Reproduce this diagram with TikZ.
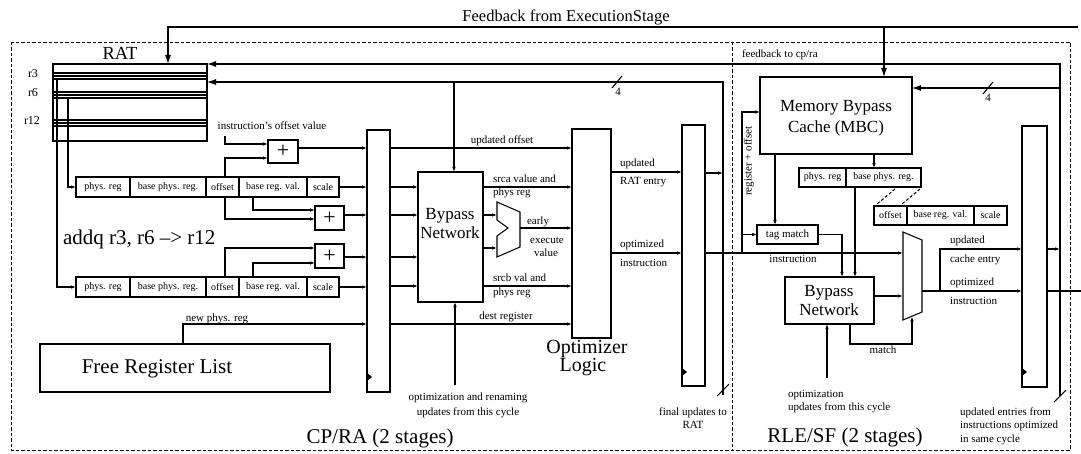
\documentclass[tikz,border=0pt]{standalone}
\usepackage{fontspec}
\setmainfont{Liberation Serif}
\usetikzlibrary{arrows.meta}
\begin{document}
\begin{tikzpicture}[x=1pt,y=-1pt,
  every node/.style={inner sep=0pt, outer sep=0pt},
  ln/.style={line width=1.05pt},
  arr/.style={ln, -{Latex[length=5pt,width=3.6pt]}},
  bigarr/.style={ln, -{Latex[length=9pt,width=6pt]}},
  box/.style={draw, line width=1.05pt, anchor=north west},
  cell/.style={box, font=\fontsize{10}{11}\selectfont, minimum height=20pt},
  sm/.style={font=\fontsize{11}{12}\selectfont},
  smb/.style={sm, anchor=base},
  smw/.style={sm, anchor=base west},
  lg/.style={font=\fontsize{21}{22}\selectfont, anchor=base},
  frame/.style={line width=0.9pt, dash pattern=on 3.5pt off 2pt},
]
\fill[white] (0,0) rectangle (1081,454);
\useasboundingbox (0,0) rectangle (1081,454);

% frame
\draw[frame] (11,42) rectangle (1070,450);
\draw[frame] (732,42) -- (732,450);

% title
\node[font=\fontsize{16.5}{18}\selectfont, anchor=base] (title) at (566,22) {Feedback from ExecutionStage};

% RAT
\node[box, minimum width=154pt, minimum height=77pt] (rat) at (53,64) {};
\node[font=\fontsize{18.5}{20}\selectfont, anchor=base] (ratlab) at (120,60) {RAT};
\foreach \yy in {73,76,79,92,95,98,120,123,126} \draw[ln] (53,\yy) -- (207,\yy);
\node[font=\fontsize{12}{13}\selectfont, anchor=base] (r3) at (33,78) {r3};
\node[font=\fontsize{12}{13}\selectfont, anchor=base] (r6) at (33,97) {r6};
\node[font=\fontsize{12}{13}\selectfont, anchor=base] (r12) at (32,125) {r12};

% field rows CP/RA
\node[cell, minimum width=54pt] (f1a) at (76,177) {phys. reg};
\node[cell, minimum width=76pt] (f1b) at (130,177) {base phys. reg.};
\node[cell, minimum width=33pt] (f1c) at (206,177) {offset};
\node[cell, minimum width=68pt] (f1d) at (239,177) {base reg. val.};
\node[cell, minimum width=32pt] (f1e) at (307,177) {scale};
\node[cell, minimum width=54pt] (f2a) at (76,277) {phys. reg};
\node[cell, minimum width=76pt] (f2b) at (130,277) {base phys. reg.};
\node[cell, minimum width=33pt] (f2c) at (206,277) {offset};
\node[cell, minimum width=68pt] (f2d) at (239,277) {base reg. val.};
\node[cell, minimum width=32pt] (f2e) at (307,277) {scale};

% adders
\node[box, minimum width=30pt, minimum height=23pt, font=\fontsize{22}{22}\selectfont] (addA) at (268,140) {+};
\node[box, minimum width=29pt, minimum height=24pt, font=\fontsize{22}{22}\selectfont] (addB) at (315,206) {+};
\node[box, minimum width=29pt, minimum height=24pt, font=\fontsize{22}{22}\selectfont] (addC) at (315,244) {+};

\node[smb] (offv) at (272,130) {instruction's offset value};
\node[font=\fontsize{21}{22}\selectfont, anchor=base west] (addq) at (63,245) {addq r3, r6 \textendash> r12};

% free register list
\node[box, minimum width=290pt, minimum height=48pt] (frl) at (40,344) {};
\node[lg] (frltxt) at (157,373) {Free Register List};
\node[smb] (newp) at (217,321) {new phys. reg};

% pipeline registers
\node[box, minimum width=23pt, minimum height=262pt] (reg1) at (367,130) {};
\node[box, minimum width=23pt, minimum height=261pt] (reg2) at (682,125) {};
\node[box, minimum width=25pt, minimum height=261pt] (reg3) at (1022,126) {};
\fill (367,373) -- (372,377) -- (367,381) -- cycle;
\fill (682,368) -- (687,372) -- (682,376) -- cycle;
\fill (1022,368) -- (1027,372) -- (1022,376) -- cycle;

% bypass network 1
\node[box, minimum width=65pt, minimum height=130pt] (byp1) at (418,172) {};
\node[font=\fontsize{17}{19}\selectfont, anchor=base] (byp1a) at (450,220) {Bypass};
\node[font=\fontsize{17}{19}\selectfont, anchor=base] (byp1b) at (450,239) {Network};

% mux 1
\draw[ln] (497,202) -- (520,212) -- (520,247) -- (497,257) -- (497,236) -- (508,228) -- (497,220) -- cycle;
\coordinate (m1in1) at (497,215);
\coordinate (m1in2) at (497,248);
\coordinate (m1out) at (520,228);

% optimizer
\node[box, minimum width=39pt, minimum height=209pt] (opt) at (572,129) {};
\node[font=\fontsize{20}{20}\selectfont, anchor=base] (optA) at (587,353) {Optimizer};
\node[font=\fontsize{20}{20}\selectfont, anchor=base] (optB) at (583,371) {Logic};

% CP/RA labels
\node[smb] (updoff) at (502,144) {updated offset};
\node[smw] (srca1) at (493,183) {srca value and};
\node[smw] (srca2) at (493,196) {phys reg};
\node[smb] (early) at (538,225) {early};
\node[smb] (exec) at (547,244) {execute};
\node[smb] (val) at (546,257) {value};
\node[smw] (srcb1) at (493,282) {srcb val and};
\node[smw] (srcb2) at (493,295) {phys reg};
\node[smb] (dest) at (506,319) {dest register};
\node[smb] (optren1) at (468,400) {optimization and renaming};
\node[smb] (optren2) at (468,415) {updates from this cycle};
\node[lg] (cpra) at (380,443) {CP/RA (2 stages)};
\node[smw] (urat1) at (620,167) {updated};
\node[smw] (urat2) at (620,185) {RAT entry};
\node[smw] (oin1) at (620,248) {optimized};
\node[smw] (oin2) at (620,267) {instruction};
\node[smb] (fin1) at (693,415) {final updates to};
\node[smb] (fin2) at (693,428) {RAT};

% RLE/SF
\node[box, minimum width=152pt, minimum height=77pt] (mbc) at (760,77) {};
\node[font=\fontsize{17}{19}\selectfont, anchor=base] (mbcA) at (836,112) {Memory Bypass};
\node[font=\fontsize{17}{19}\selectfont, anchor=base] (mbcB) at (836,133) {Cache (MBC)};
\node[smw] (fbcp) at (742,58) {feedback to cp/ra};
\node[sm, rotate=90] (regoff) at (749,161) {register + offset};

\node[cell, minimum width=47pt, minimum height=19pt] (g1a) at (799,168) {phys. reg};
\node[cell, minimum width=75pt, minimum height=19pt] (g1b) at (846,168) {base phys. reg.};
\node[cell, minimum width=33pt, minimum height=19pt] (g2a) at (874,206) {offset};
\node[cell, minimum width=67pt, minimum height=19pt] (g2b) at (907,206) {base reg. val.};
\node[cell, minimum width=33pt, minimum height=19pt] (g2c) at (974,206) {scale};
\draw[ln, dash pattern=on 3pt off 2pt] (895,189) -- (877,204);
\draw[ln, dash pattern=on 3pt off 2pt] (920,189) -- (902,204);

\node[cell, minimum width=61pt, minimum height=19pt, font=\fontsize{11}{12}\selectfont] (tag) at (757,225) {tag match};
\node[box, minimum width=89pt, minimum height=47pt] (byp2) at (785,277) {};
\node[font=\fontsize{17}{19}\selectfont, anchor=base] (byp2a) at (829,297) {Bypass};
\node[font=\fontsize{17}{19}\selectfont, anchor=base] (byp2b) at (829,315) {Network};

% mux 2
\draw[ln] (903,232) -- (922,240) -- (922,312) -- (903,320) -- cycle;
\coordinate (m2out) at (922,291);

\node[smb] (instr) at (793,263) {instruction};
\node[smb] (match) at (883,353) {match};
\node[smw] (opt21) at (788,397) {optimization};
\node[smw] (opt22) at (788,410) {updates from this cycle};
\node[lg] (rle) at (845,442) {RLE/SF (2 stages)};
\node[smw] (uce1) at (950,244) {updated};
\node[smw] (uce2) at (950,263) {cache entry};
\node[smw] (oi21) at (950,286) {optimized};
\node[smw] (oi22) at (950,304) {instruction};
\node[smw] (ue1) at (960,415) {updated entries from};
\node[smw] (ue2) at (960,428) {instructions optimized};
\node[smw] (ue3) at (960,442) {in same cycle};

% ---------- connectors ----------
% feedback from execution
\draw[bigarr] (1078,27) -- (168,27) -- (168,27 |- rat.north);
\draw[bigarr] (884,27) -- (884,27 |- mbc.north);

% feedback to cp/ra
\draw[bigarr] (1060,396) -- (1060,64) -- (rat.north east);
\draw[bigarr] (1060,88) -- (mbc.east |- 0,88);
\draw[ln] (983,94) -- (993,82);
\node[font=\fontsize{11}{12}\selectfont, anchor=base] (four2) at (988,102) {4};
\draw[ln] (1054,402) -- (1066,390);

% final updates to RAT
\draw[bigarr] (723,395) -- (723,82) -- (rat.east |- 0,82);
\draw[ln] (612,88) -- (622,76);
\node[font=\fontsize{11}{12}\selectfont, anchor=base] (four1) at (618,96) {4};
\draw[ln] (717,396) -- (729,384);
\draw[arr] (454,82) -- (454,82 |- byp1.north);

% RAT to field rows
\draw[arr] (57,79) -- (57,287) -- (f2a.west);
\draw[arr] (68,98) -- (68,187) -- (f1a.west);

% adder A
\draw[arr] (225,136) -- (225,144) -- (addA.west |- 0,144);
\draw[arr] (225,177) -- (225,158) -- (addA.west |- 0,158);
\draw[arr] (addA.east |- 0,148) -- (reg1.west |- 0,148);
% adder B
\draw[arr] (253,197) -- (253,210) -- (addB.west |- 0,210);
\draw[arr] (225,197) -- (225,219) -- (addB.west |- 0,219);
\draw[arr] (addB.east |- 0,215) -- (reg1.west |- 0,215);
% adder C
\draw[arr] (225,277) -- (225,248) -- (addC.west |- 0,248);
\draw[arr] (253,277) -- (253,263) -- (addC.west |- 0,263);
\draw[arr] (addC.east |- 0,257) -- (reg1.west |- 0,257);
% scale outputs
\draw[arr] (f1e.east) -- (f1e.east -| reg1.west);
\draw[arr] (f2e.east) -- (f2e.east -| reg1.west);
% free register list
\draw[arr] (183,344) -- (183,324) -- (reg1.west |- 0,324);

% reg1 outputs
\draw[arr] (reg1.east |- 0,148) -- (opt.west |- 0,148);
\draw[arr] (reg1.east |- 0,187) -- (byp1.west |- 0,187);
\draw[arr] (reg1.east |- 0,215) -- (byp1.west |- 0,215);
\draw[arr] (reg1.east |- 0,257) -- (byp1.west |- 0,257);
\draw[arr] (reg1.east |- 0,286) -- (byp1.west |- 0,286);
\draw[arr] (reg1.east |- 0,324) -- (opt.west |- 0,324);

% bypass 1 outputs
\draw[arr] (byp1.east |- 0,187) -- (opt.west |- 0,187);
\draw[arr] (byp1.east |- 0,286) -- (opt.west |- 0,286);
\draw[arr] (byp1.east |- m1in1) -- (m1in1);
\draw[arr] (byp1.east |- m1in2) -- (m1in2);
\draw[arr] (m1out) -- (opt.west |- m1out);
\draw[arr] (455,385) -- (455,385 |- byp1.south);

% optimizer outputs
\draw[arr] (opt.east |- 0,172) -- (reg2.west |- 0,172);
\draw[arr] (opt.east |- 0,253) -- (reg2.west |- 0,253);

% reg2 outputs
\draw[arr] (reg2.east |- 0,173) -- (723,173);
\draw[arr] (reg2.east |- 0,253) -- (903,253);
\draw[arr] (742,253) -- (742,112) -- (mbc.west |- 0,112);
\draw[arr] (742,234.5) -- (tag.west);

% MBC outputs
\draw[arr] (874,0 |- mbc.south) -- (874,0 |- g1b.north);
\draw[arr] (775,0 |- mbc.south) -- (775,0 |- tag.north);
\draw[arr] (855,0 |- g1b.south) -- (855,0 |- byp2.north);
\draw[arr] (tag.east) -- (842,234.5) -- (842,0 |- byp2.north);

% bypass 2
\draw[arr] (byp2.east |- 0,296) -- (903,296);
\draw[arr] (850,0 |- byp2.south) -- (850,344) -- (912,344) -- (912,316.5);
\draw[arr] (827,378) -- (827,0 |- byp2.south);

% mux 2 outputs
\draw[arr] (m2out) -- (reg3.west |- m2out);
\draw[arr] (940,291) -- (940,249) -- (reg3.west |- 0,249);
\draw[arr] (reg3.east |- 0,249) -- (1060,249);
\draw[ln] (reg3.east |- 0,291) -- (1081,291);
\end{tikzpicture}
\end{document}
